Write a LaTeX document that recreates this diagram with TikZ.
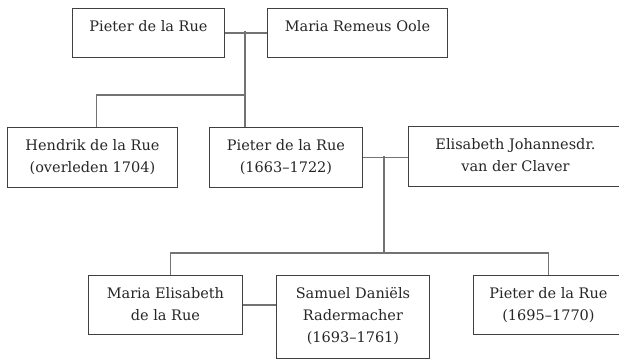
\documentclass[tikz,border=0pt]{standalone}
\usepackage{fontspec}
\setmainfont{DejaVu Serif}
\usetikzlibrary{shadows}

\newcommand\persontext[3]{\parbox[c][#2][t]{#1}{\centering\fontsize{14.5}{22}\selectfont\color{black!85}\rule{0pt}{23pt}#3}}

\begin{document}
\begin{tikzpicture}[x=1pt,y=-1pt,
  person/.style={draw=black!75,fill=white,line width=0.9pt,inner sep=0pt,anchor=north west,
    drop shadow={shadow xshift=0.8pt,shadow yshift=-0.8pt,fill=black!50,opacity=0.6}},
  link/.style={draw=black!55,line width=1.1pt}]
\path[fill=white,use as bounding box] (0,0) rectangle (619,359);

% First generation
\node[person] (pieter1) at (72,8) {\persontext{152pt}{49pt}{Pieter de la Rue}};
\node[person] (maria1) at (267,8) {\persontext{180pt}{49pt}{Maria Remeus Oole}};

% Second generation
\node[person] (hendrik) at (7,127) {\persontext{170pt}{60pt}{Hendrik de la Rue\\(overleden 1704)}};
\node[person] (pieter2) at (209,127) {\persontext{153pt}{60pt}{Pieter de la Rue\\(1663–1722)}};
\node[person] (elisabeth) at (408,126) {\persontext{214pt}{60pt}{Elisabeth Johannesdr.\\van der Claver}};

% Third generation
\node[person] (mariaE) at (88,275) {\persontext{154pt}{59pt}{Maria Elisabeth\\de la Rue}};
\node[person] (samuel) at (276,275) {\persontext{153pt}{83pt}{Samuel Daniëls\\Radermacher\\(1693–1761)}};
\node[person] (pieter3) at (473,275) {\persontext{150pt}{59pt}{Pieter de la Rue\\(1695–1770)}};

% Marriages and children
\coordinate (wed1) at (245,31);
\coordinate (kids1) at (245,95);
\draw[link] (pieter1.east) -- (pieter1.east -| maria1.west);
\draw[link] (wed1) -- (kids1) -- (kids1 |- pieter2.north);
\draw[link] (kids1) -| ([xshift=4pt]hendrik.north);

\coordinate (wed2) at (384,156);
\coordinate (kids2) at (384,253);
\draw[link] (pieter2.east) -- (pieter2.east -| elisabeth.west);
\draw[link] (wed2) -- (kids2);
\draw[link] (kids2) -| ([xshift=5pt]mariaE.north);
\draw[link] (kids2) -| (pieter3.north);
\draw[link] (mariaE.east) -- (mariaE.east -| samuel.west);
\end{tikzpicture}
\end{document}
